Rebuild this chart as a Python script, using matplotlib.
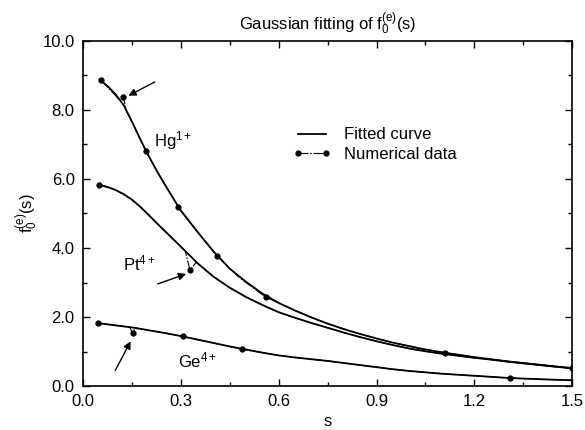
import matplotlib
matplotlib.use("Agg")
import matplotlib.pyplot as plt
from matplotlib.ticker import MultipleLocator, FormatStrFormatter

plt.rcParams['font.family'] = ['Liberation Sans', 'DejaVu Sans']
plt.rcParams['mathtext.fontset'] = 'custom'
plt.rcParams['mathtext.rm'] = 'Liberation Sans'
plt.rcParams['mathtext.it'] = 'Liberation Sans:italic'

# fitted curves
s_fit = [0.05, 0.075, 0.10, 0.125, 0.15, 0.175, 0.20, 0.225, 0.25, 0.30, 0.35,
         0.40, 0.45, 0.50, 0.55, 0.60, 0.65, 0.70, 0.75, 0.80, 0.85, 0.90,
         0.95, 1.00, 1.05, 1.10, 1.15, 1.20, 1.25, 1.30, 1.35, 1.40, 1.45, 1.50]
hg_fit = [8.88, 8.69, 8.45, 8.13, 7.66, 7.16, 6.69, 6.25, 5.85, 5.08, 4.48,
          3.90, 3.40, 3.02, 2.68, 2.41, 2.19, 1.99, 1.81, 1.65, 1.51, 1.38,
          1.26, 1.16, 1.06, 0.98, 0.91, 0.84, 0.78, 0.72, 0.67, 0.62, 0.57, 0.52]
pt_fit = [5.83, 5.77, 5.68, 5.56, 5.40, 5.20, 4.97, 4.73, 4.50, 4.04, 3.57,
          3.17, 2.85, 2.58, 2.35, 2.14, 1.98, 1.83, 1.69, 1.55, 1.42, 1.30,
          1.19, 1.09, 1.01, 0.94, 0.88, 0.82, 0.77, 0.71, 0.66, 0.61, 0.56, 0.52]
ge_fit = [1.82, 1.79, 1.76, 1.73, 1.70, 1.66, 1.62, 1.58, 1.54, 1.45, 1.35,
          1.25, 1.15, 1.06, 0.97, 0.89, 0.83, 0.78, 0.73, 0.67, 0.61, 0.55,
          0.49, 0.44, 0.40, 0.36, 0.33, 0.30, 0.27, 0.24, 0.22, 0.20, 0.185, 0.17]

# numerical data
hg_s = [0.055, 0.113, 0.124, 0.132, 0.15, 0.175, 0.192, 0.25, 0.292, 0.35, 0.412,
        0.48, 0.56, 0.65, 0.75, 0.85, 0.95, 1.03, 1.11, 1.2, 1.3, 1.4, 1.5]
hg_y = [8.86, 8.28, 8.38, 7.98, 7.66, 7.16, 6.81, 5.85, 5.19, 4.48, 3.76,
        3.14, 2.58, 2.19, 1.81, 1.51, 1.26, 1.10, 0.97, 0.84, 0.72, 0.62, 0.52]
hg_marked = [0, 2, 6, 8, 10, 12, 18, 22]

pt_s = [0.05, 0.10, 0.15, 0.20, 0.25, 0.313, 0.328, 0.347, 0.40, 0.45, 0.50,
        0.55, 0.60, 0.65, 0.70, 0.75, 0.80, 0.85, 0.90, 0.95, 1.00, 1.05,
        1.10, 1.15, 1.20, 1.25, 1.30, 1.35, 1.40, 1.45, 1.50]
pt_y = [5.83, 5.68, 5.40, 4.97, 4.50, 3.92, 3.36, 3.59, 3.17, 2.85, 2.58,
        2.35, 2.14, 1.98, 1.83, 1.69, 1.55, 1.42, 1.30, 1.19, 1.09, 1.01,
        0.94, 0.88, 0.82, 0.77, 0.71, 0.66, 0.61, 0.56, 0.52]
pt_marked = [0, 6]

ge_s = [0.045, 0.10, 0.143, 0.152, 0.16, 0.20, 0.25, 0.305, 0.35, 0.40, 0.486,
        0.55, 0.60, 0.65, 0.70, 0.75, 0.80, 0.85, 0.90, 0.95, 1.00, 1.05,
        1.10, 1.15, 1.20, 1.25, 1.31, 1.35, 1.40, 1.45, 1.50]
ge_y = [1.82, 1.76, 1.71, 1.53, 1.69, 1.62, 1.54, 1.44, 1.35, 1.25, 1.07,
        0.97, 0.89, 0.83, 0.78, 0.73, 0.67, 0.61, 0.55, 0.49, 0.44, 0.40,
        0.36, 0.33, 0.30, 0.27, 0.23, 0.22, 0.20, 0.185, 0.17]
ge_marked = [0, 3, 7, 10, 26]

# ion labels and arrows (tail -> head)
labels = [r'Hg$^{\mathregular{1+}}$', r'Pt$^{\mathregular{4+}}$', r'Ge$^{\mathregular{4+}}$']
label_pos = [(0.217, 7.1), (0.124, 3.55), (0.29, 0.75)]
arrow_tail = [(0.22, 8.81), (0.229, 2.96), (0.099, 0.46)]
arrow_head = [(0.139, 8.41), (0.316, 3.25), (0.146, 1.30)]


def main():
    fig = plt.figure(figsize=(5.85, 4.3), dpi=100)
    ax = fig.add_axes([0.142, 0.102, 0.836, 0.803])

    data_style = dict(color='black', lw=0.8, ls=(0, (9, 1.5, 1.5, 1.5)),
                      marker='o', ms=3.5)
    for y in (hg_fit, pt_fit, ge_fit):
        ax.plot(s_fit, y, color='black', lw=1.3)
    ax.plot(hg_s, hg_y, markevery=hg_marked, **data_style)
    ax.plot(pt_s, pt_y, markevery=pt_marked, **data_style)
    ax.plot(ge_s, ge_y, markevery=ge_marked, **data_style)

    for txt, pos in zip(labels, label_pos):
        ax.text(pos[0], pos[1], txt, fontsize=12, va='center', ha='left')
    for tail, head in zip(arrow_tail, arrow_head):
        ax.annotate('', xy=head, xytext=tail,
                    arrowprops=dict(arrowstyle='-|>', color='black', lw=1.0,
                                    mutation_scale=11, shrinkA=0, shrinkB=0))

    h_fit, = ax.plot([], [], color='black', lw=1.3)
    h_dat, = ax.plot([], [], **data_style)
    ax.legend([h_fit, h_dat], ['Fitted curve', 'Numerical data'],
              loc='center left', bbox_to_anchor=(0.415, 0.70), frameon=False,
              fontsize=12, handlelength=2.3, labelspacing=0.25, numpoints=2,
              borderaxespad=0, handletextpad=0.8)

    ax.set_xlim(0, 1.5)
    ax.set_ylim(0, 10)
    ax.xaxis.set_major_locator(MultipleLocator(0.3))
    ax.xaxis.set_minor_locator(MultipleLocator(0.15))
    ax.yaxis.set_major_locator(MultipleLocator(2.0))
    ax.yaxis.set_minor_locator(MultipleLocator(1.0))
    ax.xaxis.set_major_formatter(FormatStrFormatter('%.1f'))
    ax.yaxis.set_major_formatter(FormatStrFormatter('%.1f'))
    ax.tick_params(which='both', direction='in', top=True, right=True,
                   labelsize=12, width=1.0)
    ax.tick_params(which='major', length=5, pad=6)
    ax.tick_params(which='minor', length=3)
    for sp in ax.spines.values():
        sp.set_linewidth(1.2)

    ax.set_title(r'Gaussian fitting of f$_{\mathregular{0}}^{\mathregular{(e)}}$(s)',
                 fontsize=12, pad=8)
    ax.set_xlabel('s', fontsize=12, labelpad=3)
    ax.set_ylabel(r'f$_{\mathregular{0}}^{\mathregular{(e)}}$(s)', fontsize=12,
                  labelpad=2)

    fig.savefig('out.png', dpi=100)


if __name__ == "__main__":
    main()
